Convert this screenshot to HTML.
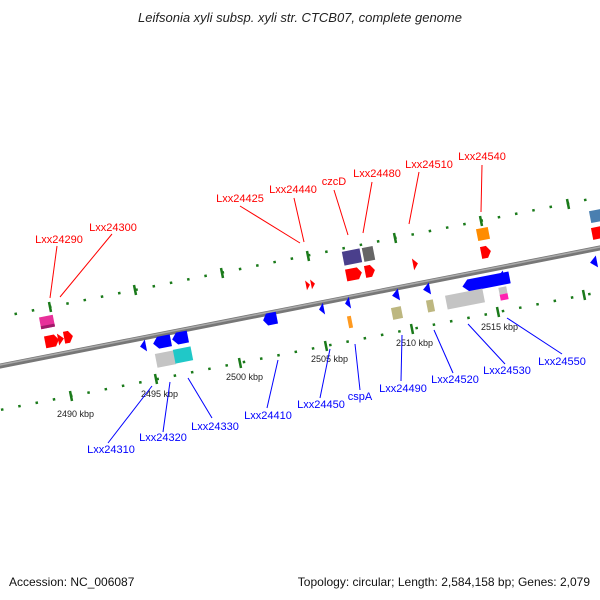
<!DOCTYPE html>
<html><head><style>
html,body{margin:0;padding:0;background:#fff;width:600px;height:600px;overflow:hidden}
svg{display:block}
text{font-family:"Liberation Sans","DejaVu Sans",sans-serif}
</style></head><body>
<svg width="600" height="600" viewBox="0 0 600 600" xmlns="http://www.w3.org/2000/svg">
<text x="300" y="22" text-anchor="middle" font-size="13" font-style="italic" fill="#222">Leifsonia xyli subsp. xyli str. CTCB07, complete genome</text>
<text x="9" y="586" font-size="12" fill="#111">Accession: NC_006087</text>
<text x="590" y="586" font-size="12" fill="#111" text-anchor="end">Topology: circular; Length: 2,584,158 bp; Genes: 2,079</text>

<!-- main backbone -->
<line x1="-5" y1="367" x2="605" y2="247" stroke="#777" stroke-width="5"/>
<line x1="-5" y1="366" x2="605" y2="246" stroke="#aaa" stroke-width="1.5"/>

<!-- upper track dots -->
<line x1="0" y1="317" x2="600" y2="197" stroke="#1a7a1a" stroke-width="2.5" stroke-dasharray="2.5,15.1" stroke-dashoffset="2.8"/>
<!-- lower track dots -->
<line x1="0" y1="410" x2="600" y2="292" stroke="#1a7a1a" stroke-width="2.5" stroke-dasharray="2.5,15.1" stroke-dashoffset="16.6"/>
<g stroke="#1a7a1a" stroke-width="2.5">
<line x1="49" y1="302" x2="51" y2="312"/>
<line x1="134" y1="285" x2="136" y2="295"/>
<line x1="221" y1="268" x2="223" y2="278"/>
<line x1="307" y1="251" x2="309" y2="261"/>
<line x1="394" y1="233" x2="396" y2="243"/>
<line x1="480" y1="216" x2="482" y2="226"/>
<line x1="567" y1="199" x2="569" y2="209"/>
<line x1="70" y1="391" x2="72" y2="401"/>
<line x1="155" y1="374" x2="157" y2="384"/>
<line x1="239" y1="358" x2="241" y2="368"/>
<line x1="325" y1="341" x2="327" y2="351"/>
<line x1="411" y1="324" x2="413" y2="334"/>
<line x1="497" y1="307" x2="499" y2="317"/>
<line x1="583" y1="290" x2="585" y2="300"/>
</g>

<g font-size="9" fill="#222">
<text x="57" y="417">2490 kbp</text>
<text x="141" y="397">2495 kbp</text>
<text x="226" y="380">2500 kbp</text>
<text x="311" y="362">2505 kbp</text>
<text x="396" y="346">2510 kbp</text>
<text x="481" y="330">2515 kbp</text>
</g>

<!-- red labels -->
<g stroke="#f00" stroke-width="1">
<line x1="57" y1="246" x2="50" y2="298"/>
<line x1="112" y1="234" x2="60" y2="297"/>
<line x1="240" y1="206" x2="300" y2="243"/>
<line x1="294" y1="198" x2="304" y2="242"/>
<line x1="334" y1="190" x2="348" y2="235"/>
<line x1="372" y1="182" x2="363" y2="233"/>
<line x1="419" y1="172" x2="409" y2="224"/>
<line x1="482" y1="165" x2="481" y2="212"/>
</g>
<g font-size="11" fill="#f00" text-anchor="middle">
<text x="59" y="243">Lxx24290</text>
<text x="113" y="231">Lxx24300</text>
<text x="240" y="202">Lxx24425</text>
<text x="293" y="193">Lxx24440</text>
<text x="334" y="185">czcD</text>
<text x="377" y="177">Lxx24480</text>
<text x="429" y="168">Lxx24510</text>
<text x="482" y="160">Lxx24540</text>
</g>

<!-- blue labels -->
<g stroke="#00f" stroke-width="1">
<line x1="108" y1="443" x2="152" y2="386"/>
<line x1="163" y1="432" x2="170" y2="382"/>
<line x1="212" y1="418" x2="188" y2="378"/>
<line x1="267" y1="408" x2="278" y2="360"/>
<line x1="320" y1="398" x2="330" y2="349"/>
<line x1="360" y1="390" x2="355" y2="344"/>
<line x1="401" y1="381" x2="402" y2="335"/>
<line x1="453" y1="373" x2="434" y2="330"/>
<line x1="505" y1="364" x2="468" y2="324"/>
<line x1="562" y1="354" x2="507" y2="318"/>
</g>
<g font-size="11" fill="#00f" text-anchor="middle">
<text x="111" y="453">Lxx24310</text>
<text x="163" y="441">Lxx24320</text>
<text x="215" y="430">Lxx24330</text>
<text x="268" y="419">Lxx24410</text>
<text x="321" y="408">Lxx24450</text>
<text x="360" y="400">cspA</text>
<text x="403" y="392">Lxx24490</text>
<text x="455" y="383">Lxx24520</text>
<text x="507" y="374">Lxx24530</text>
<text x="562" y="365">Lxx24550</text>
</g>

<!-- features -->
<g transform="translate(47,322) rotate(-11)"><rect x="-7" y="-6" width="14" height="12" fill="#e8309a"/><rect x="-7" y="3" width="14" height="3" fill="#a01a6a"/></g>
<g fill="#f00">
<g transform="translate(52,341) rotate(-11)"><polygon points="-7,-6 3,-6 7,0 3,6 -7,6"/></g>
<g transform="translate(61,339) rotate(-11)"><polygon points="-3,-6 3,0 -3,6"/></g>
<g transform="translate(68,337) rotate(-11)"><polygon points="-4,-6 1,-6 5,0 1,6 -4,6"/></g>
<g transform="translate(308,285) rotate(-11)"><polygon points="-2,-5 2,0 -2,5"/></g>
<g transform="translate(313,284) rotate(-11)"><polygon points="-2,-5 2,0 -2,5"/></g>
<g transform="translate(354,274) rotate(-11)"><polygon points="-8,-6 4,-6 8,0 4,6 -8,6"/></g>
<g transform="translate(370,271) rotate(-11)"><polygon points="-5,-6 1,-6 5,0 1,6 -5,6"/></g>
<g transform="translate(415,264) rotate(-11)"><polygon points="-2,-6 3,0 -2,6"/></g>
<g transform="translate(486,252) rotate(-11)"><polygon points="-5,-6 1,-6 5,0 1,6 -5,6"/></g>
<g transform="translate(597,233) rotate(-11)"><polygon points="-5,-6 5,-6 5,6 -5,6"/></g>
</g>
<g transform="translate(352,257) rotate(-11)"><rect x="-9" y="-7" width="18" height="14" fill="#4a3f8c"/></g>
<g transform="translate(368,254) rotate(-11)"><rect x="-5" y="-7" width="11" height="14" fill="#666"/></g>
<g transform="translate(483,234) rotate(-11)"><rect x="-6" y="-6" width="12" height="12" fill="#ff8c00"/></g>
<g transform="translate(596,216) rotate(-11)"><rect x="-6" y="-6" width="12" height="12" fill="#4a7fb0"/></g>
<g fill="#00f">
<g transform="translate(143,346) rotate(-11)"><polygon points="3,-6 -3,0 3,6"/></g>
<g transform="translate(162,342) rotate(-11)"><polygon points="9,-6 -4,-6 -9,0 -4,6 9,6"/></g>
<g transform="translate(180,338) rotate(-11)"><polygon points="8,-6 -3,-6 -8,0 -3,6 8,6"/></g>
<g transform="translate(270,319) rotate(-11)"><polygon points="7,-6 -3,-6 -7,0 -3,6 7,6"/></g>
<g transform="translate(322,309) rotate(-11)"><polygon points="2,-6 -3,0 2,6"/></g>
<g transform="translate(348,303) rotate(-11)"><polygon points="2,-6 -3,0 2,6"/></g>
<g transform="translate(396,295) rotate(-11)"><polygon points="3,-6 -4,0 3,6"/></g>
<g transform="translate(427,289) rotate(-11)"><polygon points="3,-6 -4,0 3,6"/></g>
<g transform="translate(486,282) rotate(-11)"><polygon points="24,-6 -18,-6 -24,0 -18,6 24,6"/></g>
<g transform="translate(501,277) rotate(-11)"><polygon points="3,-6 -4,0 3,6"/></g>
<g transform="translate(594,262) rotate(-11)"><polygon points="3,-6 -4,0 3,6"/></g>
</g>
<g transform="translate(166,359) rotate(-11)"><rect x="-10" y="-7" width="19" height="14" fill="#c4c4c4"/></g>
<g transform="translate(183,355) rotate(-11)"><rect x="-9" y="-7" width="18" height="14" fill="#20c8c8"/></g>
<g transform="translate(350,322) rotate(-11)"><rect x="-2" y="-6" width="4" height="12" fill="#ff9a20"/></g>
<g transform="translate(397,313) rotate(-11)"><rect x="-5" y="-6" width="10" height="12" fill="#bdb780"/></g>
<g transform="translate(430,306) rotate(-11)"><rect x="-3" y="-6" width="7" height="12" fill="#bdb780"/></g>
<g transform="translate(465,299) rotate(-11)"><rect x="-19" y="-7" width="38" height="14" fill="#c4c4c4"/></g>
<g transform="translate(503,291) rotate(-11)"><rect x="-4" y="-4" width="8" height="7" fill="#c4c4c4"/><rect x="-4" y="3" width="8" height="6" fill="#ff20b0"/></g>
</svg>
</body></html>
